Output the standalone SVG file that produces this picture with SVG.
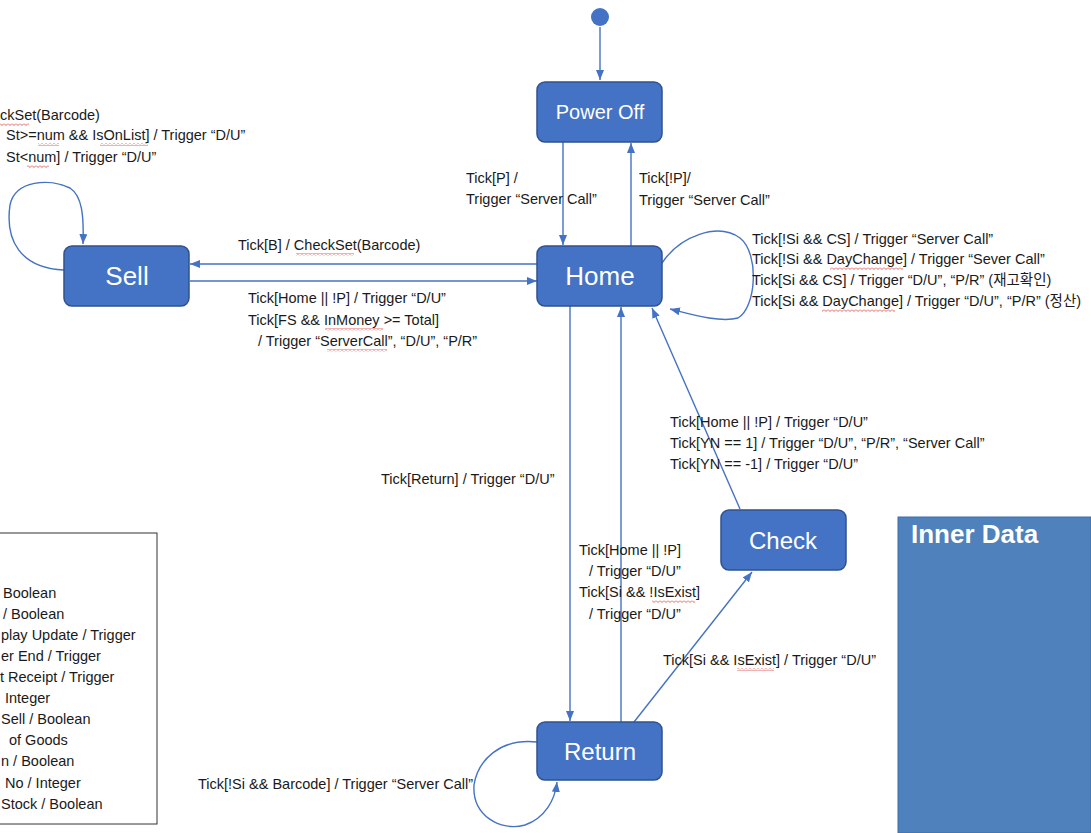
<svg xmlns="http://www.w3.org/2000/svg" width="1091" height="833" viewBox="0 0 1091 833">
<style>
.node{fill:#4472C4;stroke:#2F528F;stroke-width:1.5}
.nt{fill:#fff;font-family:"Liberation Sans","Noto Sans CJK KR",sans-serif;text-anchor:middle}
.lb{fill:#1a1a1a;font-family:"Liberation Sans","Noto Sans CJK KR",sans-serif;font-size:14.5px}
.cn{fill:none;stroke:#4472C4;stroke-width:1.4}
.sq{fill:url(#sqp)}
</style>
<defs>
<marker id="ah" markerWidth="10" markerHeight="8" refX="10" refY="4" orient="auto" markerUnits="userSpaceOnUse">
<path d="M0,0 L10,4 L0,8 z" fill="#4472C4"/>
</marker>
<pattern id="sqp" width="4" height="3" patternUnits="userSpaceOnUse">
<path d="M0,0.5 L2,2.5 L4,0.5" fill="none" stroke="#e03a3a" stroke-width="0.8"/>
</pattern>
</defs>
<rect width="1091" height="833" fill="#fff"/>

<g id="inner-data">
<rect x="898" y="517" width="193" height="316" fill="#4F81BD" stroke="#3c6ea8" stroke-width="1"/>
<text x="911" y="543" fill="#fff" font-family="Liberation Sans,sans-serif" font-weight="bold" font-size="26">Inner Data</text>
</g>

<g id="legend">
<rect x="-1" y="533" width="158" height="291" fill="#fff" stroke="#333" stroke-width="1"/>
<text class="lb" x="3" y="598">Boolean</text>
<text class="lb" x="3" y="619">/ Boolean</text>
<text class="lb" x="1" y="640">play Update / Trigger</text>
<text class="lb" x="1" y="661">er End / Trigger</text>
<text class="lb" x="0" y="682">t Receipt / Trigger</text>
<text class="lb" x="5" y="703">Integer</text>
<text class="lb" x="1" y="724">Sell / Boolean</text>
<text class="lb" x="9" y="745">of Goods</text>
<text class="lb" x="1" y="766">n / Boolean</text>
<text class="lb" x="5" y="788">No / Integer</text>
<text class="lb" x="1" y="809">Stock / Boolean</text>
</g>

<g id="connectors">
<path class="cn" d="M600,27 L600,80" marker-end="url(#ah)"/>
<path class="cn" d="M563,142 L563,245" marker-end="url(#ah)"/>
<path class="cn" d="M631,246 L631,143" marker-end="url(#ah)"/>
<path class="cn" d="M537,264 L190,264" marker-end="url(#ah)"/>
<path class="cn" d="M190,281 L537,281" marker-end="url(#ah)"/>
<path class="cn" d="M570,306 L570,721" marker-end="url(#ah)"/>
<path class="cn" d="M621,722 L621,307" marker-end="url(#ah)"/>
<path class="cn" d="M740,509 L652,308" marker-end="url(#ah)"/>
<path class="cn" d="M634,722 L752,572" marker-end="url(#ah)"/>
<path class="cn" d="M662,263 C680,236 718,222 740,238 C760,254 756,308 738,318 C720,323 690,314 670,309" marker-end="url(#ah)"/>
<path class="cn" d="M64,270 C20,268 5,240 10,205 C15,180 50,178 70,188 C82,196 84,215 83,244" marker-end="url(#ah)"/>
<path class="cn" d="M537,742 C500,738 478,760 474,785 C472,815 500,832 525,825 C545,818 555,800 557,782" marker-end="url(#ah)"/>
</g>

<g id="initial">
<circle cx="600" cy="17" r="9" fill="#4472C4"/>
</g>
<g id="power-off">
<rect class="node" x="537" y="82" width="125" height="60" rx="8"/>
<text class="nt" x="600" y="119" font-size="20">Power Off</text>
</g>
<g id="home">
<rect class="node" x="537" y="246" width="125" height="60" rx="8"/>
<text class="nt" x="600" y="285" font-size="26">Home</text>
</g>
<g id="sell">
<rect class="node" x="64" y="246" width="125" height="60" rx="8"/>
<text class="nt" x="127" y="285" font-size="26">Sell</text>
</g>
<g id="check">
<rect class="node" x="721" y="510" width="125" height="60" rx="8"/>
<text class="nt" x="783" y="549" font-size="24">Check</text>
</g>
<g id="return">
<rect class="node" x="537" y="722" width="125" height="58" rx="8"/>
<text class="nt" x="600" y="760" font-size="24">Return</text>
</g>

<g id="labels">
<text class="lb" x="0" y="120">ckSet(Barcode)</text>
<text class="lb" x="6" y="140">St&gt;=num &amp;&amp; IsOnList] / Trigger “D/U”</text>
<text class="lb" x="6" y="162">St&lt;num] / Trigger “D/U”</text>

<text class="lb" x="466" y="183">Tick[P] /</text>
<text class="lb" x="466" y="204">Trigger “Server Call”</text>
<text class="lb" x="639" y="183">Tick[!P]/</text>
<text class="lb" x="639" y="205">Trigger “Server Call”</text>

<text class="lb" x="238" y="250">Tick[B] / CheckSet(Barcode)</text>
<text class="lb" x="248" y="303">Tick[Home || !P] / Trigger “D/U”</text>
<text class="lb" x="248" y="325">Tick[FS &amp;&amp; InMoney &gt;= Total]</text>
<text class="lb" x="258" y="346">/ Trigger “ServerCall”, “D/U”, “P/R”</text>

<text class="lb" x="752" y="244">Tick[!Si &amp;&amp; CS] / Trigger “Server Call”</text>
<text class="lb" x="752" y="264">Tick[!Si &amp;&amp; DayChange] / Trigger “Sever Call”</text>
<text class="lb" x="752" y="285">Tick[Si &amp;&amp; CS] / Trigger “D/U”, “P/R”  (재고확인)</text>
<text class="lb" x="752" y="306">Tick[Si &amp;&amp; DayChange] / Trigger “D/U”, “P/R”  (정산)</text>

<text class="lb" x="670" y="427">Tick[Home || !P] / Trigger “D/U”</text>
<text class="lb" x="670" y="448">Tick[YN == 1] / Trigger “D/U”, “P/R”, “Server Call”</text>
<text class="lb" x="670" y="469">Tick[YN == -1] / Trigger “D/U”</text>

<text class="lb" x="381" y="484">Tick[Return] / Trigger “D/U”</text>

<text class="lb" x="579" y="555">Tick[Home || !P]</text>
<text class="lb" x="589" y="576">/ Trigger “D/U”</text>
<text class="lb" x="579" y="597">Tick[Si &amp;&amp; !IsExist]</text>
<text class="lb" x="589" y="619">/ Trigger “D/U”</text>

<text class="lb" x="663" y="665">Tick[Si &amp;&amp; IsExist] / Trigger “D/U”</text>

<text class="lb" x="198" y="789">Tick[!Si &amp;&amp; Barcode] / Trigger “Server Call”</text>
</g>

<g id="spellcheck">
<rect class="sq" x="0" y="123" width="29" height="3"/>
<rect class="sq" x="38" y="143" width="21" height="3"/>
<rect class="sq" x="100" y="143" width="48" height="3"/>
<rect class="sq" x="27" y="165" width="22" height="3"/>
<rect class="sq" x="296" y="253" width="58" height="3"/>
<rect class="sq" x="325" y="328" width="58" height="3"/>
<rect class="sq" x="327" y="349" width="60" height="3"/>
<rect class="sq" x="830" y="267" width="73" height="3"/>
<rect class="sq" x="822" y="309" width="73" height="3"/>
<rect class="sq" x="652" y="600" width="43" height="3"/>
<rect class="sq" x="737" y="668" width="37" height="3"/>
</g>
</svg>
